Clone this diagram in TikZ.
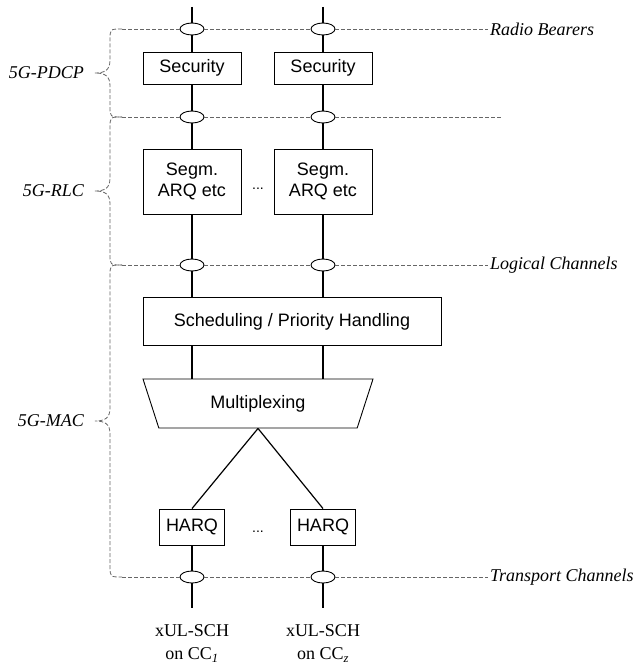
\documentclass[tikz,border=0pt]{standalone}
\usepackage{fontspec}
\setmainfont{Liberation Serif}
\setsansfont{Liberation Sans}
\usetikzlibrary{shapes.geometric, positioning}

\begin{document}
\begin{tikzpicture}[x=1pt, y=-1pt,
  box/.style={rectangle, draw, line width=0.9pt, minimum width=98pt, minimum height=32pt,
              inner sep=2pt, align=center, font=\sffamily\fontsize{18}{21}\selectfont},
  sap/.style={ellipse, draw, line width=0.9pt, fill=white, minimum width=24pt,
              minimum height=12pt, inner sep=0pt},
  link/.style={line width=1.2pt},
  chan/.style={draw=black!60, line width=0.8pt, dash pattern=on 4pt off 2pt},
  lbl/.style={font=\itshape\fontsize{18}{21}\selectfont, inner sep=2pt},
  dots/.style={font=\sffamily\fontsize{14}{16}\selectfont, inner sep=0pt}
]
\useasboundingbox (0,0) rectangle (640,666);

% columns
\coordinate (top1) at (192,7);
\coordinate (top2) at (323,7);
\coordinate (bot1) at (192,608);
\coordinate (bot2) at (323,608);

% service access points
\node[sap] (rb1) at (192,29)  {};
\node[sap] (rb2) at (323,29)  {};
\node[sap] (pd1) at (192,117) {};
\node[sap] (pd2) at (323,117) {};
\node[sap] (lc1) at (192,265) {};
\node[sap] (lc2) at (323,265) {};
\node[sap] (tc1) at (192,577) {};
\node[sap] (tc2) at (323,577) {};

% blocks
\node[box] (sec1) at (192,68) {Security};
\node[box] (sec2) at (323,68) {Security};
\node[box, minimum height=65pt] (seg1) at (192,181.5) {Segm.\\ARQ etc};
\node[box, minimum height=65pt] (seg2) at (323,181.5) {Segm.\\ARQ etc};
\node[dots] (segdots) at (258,189) {...};
\node[box, minimum width=298pt, minimum height=48pt] (sched) at (292,321.5)
  {Scheduling / Priority Handling};
\node[trapezium, draw, line width=0.9pt, shape border rotate=180,
      trapezium left angle=56, trapezium right angle=56, trapezium stretches body,
      minimum width=230pt, minimum height=49pt,
      font=\sffamily\fontsize{18}{21}\selectfont] (mux) at (258,403.5) {Multiplexing};
\node[box, minimum width=65pt, minimum height=36pt] (harq1) at (192,527) {HARQ};
\node[box, minimum width=65pt, minimum height=36pt] (harq2) at (323,527) {HARQ};
\node[dots] (harqdots) at (258,532) {...};

% transport channel names
\node[align=center, font=\fontsize{18}{23}\selectfont] (ch1) at (192,643.5)
  {xUL-SCH\\on CC\textsubscript{\textit{1}}};
\node[align=center, font=\fontsize{18}{23}\selectfont] (ch2) at (323,643.5)
  {xUL-SCH\\on CC\textsubscript{\textit{z}}};

% channel labels on the right
\node[lbl, anchor=west] (rbl) at (488,29)  {Radio Bearers};
\coordinate (pdr) at (503,117);
\node[lbl, anchor=west] (lcl) at (488,265) {Logical Channels};
\node[lbl, anchor=west] (tcl) at (488,577) {Transport Channels};

% dashed channel lines
\coordinate (rbL) at (122,29);
\coordinate (pdL) at (122,117);
\coordinate (lcL) at (122,265);
\coordinate (tcL) at (122,577);
\draw[chan] (rbL) -- (rb1) -- (rb2) -- (rbl);
\draw[chan] (pdL) -- (pd1) -- (pd2) -- (pdr);
\draw[chan] (lcL) -- (lc1) -- (lc2) -- (lcl);
\draw[chan] (tcL) -- (tc1) -- (tc2) -- (tcl);

% layer braces
\foreach \ya/\yb/\nm [count=\i] in {29/117/5G-PDCP, 117/265/5G-RLC, 265/577/5G-MAC} {
  \pgfmathsetmacro\ym{(\ya+\yb)/2}
  \draw[chan] (122,\ya) .. controls (110,\ya) .. (110,{\ya+11})
    -- (110,{\ym-13}) .. controls (110,{\ym-3}) and (105,\ym) .. (95,\ym)
    .. controls (105,\ym) and (110,{\ym+3}) .. (110,{\ym+13})
    -- (110,{\yb-11}) .. controls (110,\yb) .. (122,\yb);
  \node[lbl, anchor=east] (layer\i) at (86,\ym) {\nm};
}

% data paths
\foreach \c in {1,2} {
  \draw[link] (top\c) -- (rb\c) -- (sec\c) -- (pd\c) -- (seg\c) -- (lc\c)
    -- (lc\c |- sched.north);
  \draw[link] (sched.south -| lc\c) -- (lc\c |- mux.north);
  \draw[link] (mux.south) -- (harq\c.north);
  \draw[link] (harq\c) -- (tc\c) -- (bot\c);
}
\end{tikzpicture}
\end{document}
